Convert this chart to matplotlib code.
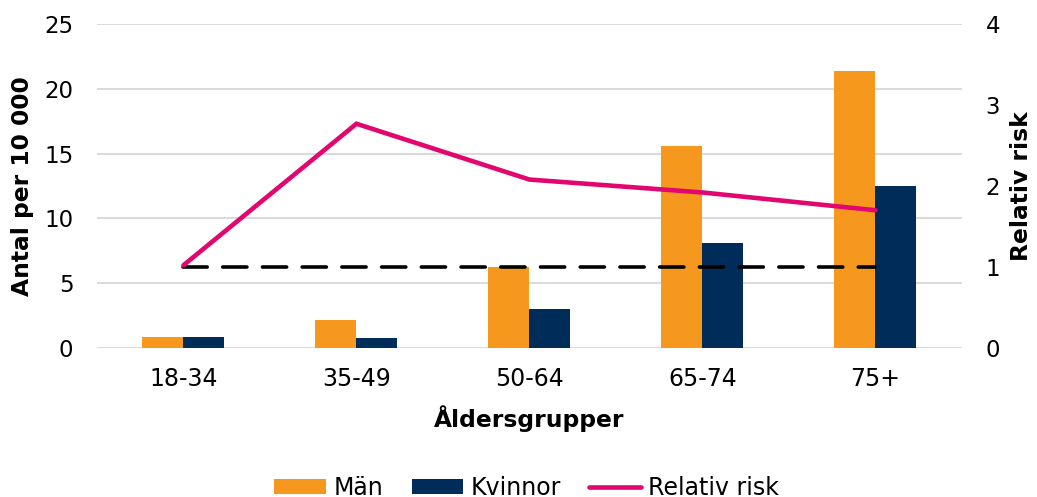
import matplotlib
matplotlib.use("Agg")
import matplotlib.pyplot as plt
import numpy as np

# data
groups = ["18-34", "35-49", "50-64", "65-74", "75+"]
man = [0.83, 2.14, 6.24, 15.56, 21.38]
kvinnor = [0.80, 0.77, 2.99, 8.13, 12.5]
relativ_risk = [1.02, 2.77, 2.08, 1.92, 1.70]
referens = [1, 1, 1, 1, 1]

orange = "#F7981E"
navy = "#002C59"
pink = "#E2066F"

plt.rcParams['font.family'] = ['DejaVu Sans']

fig = plt.figure(figsize=(10.37, 4.97), dpi=100)
ax = fig.add_axes([0.0935, 0.3004, 0.8341, 0.6507])
ax2 = ax.twinx()

x = np.arange(len(groups))
w = 0.237
b1 = ax.bar(x - w/2, man, w, color=orange, label="Män", zorder=2)
b2 = ax.bar(x + w/2, kvinnor, w, color=navy, label="Kvinnor", zorder=2)

ax.set_xlim(-0.5, len(groups) - 0.5)
ax.set_ylim(0, 25)
ax.set_yticks([0, 5, 10, 15, 20, 25])
ax.set_axisbelow(True)
ax.yaxis.grid(True, color="#D9D9D9", linewidth=1.4)
ax.set_xticks(x)
ax.set_xticklabels(groups)
ax.tick_params(axis="x", length=0, pad=14, labelsize=17)
ax.tick_params(axis="y", length=0, pad=17, labelsize=16.5)

ax2.set_ylim(0, 4)
ax2.set_yticks([0, 1, 2, 3, 4])
ax2.tick_params(axis="y", length=0, pad=17, labelsize=16.5)

# reference level and relative risk line
ax2.plot(x, referens, color="black", linewidth=2.6, dashes=(6.7, 4.3),
         dash_capstyle="round")
ln, = ax2.plot(x, relativ_risk, color=pink, linewidth=3.3,
               solid_capstyle="round", solid_joinstyle="miter", label="Relativ risk")

for a in (ax, ax2):
    for s in a.spines.values():
        s.set_visible(False)

ax.set_xlabel("Åldersgrupper", fontsize=16.8, fontweight="bold", labelpad=10)
ax.set_ylabel("Antal per 10 000", fontsize=16.8, fontweight="bold",
              ha="center", va="center")
ax.yaxis.set_label_coords(-0.0861, 0.5)
ax2.set_ylabel("Relativ risk", fontsize=16.8, fontweight="bold", rotation=90,
               ha="center", va="center")
ax2.yaxis.set_label_coords(1.069, 0.5)

fig.legend(handles=[b1, b2, ln], loc="upper center", bbox_to_anchor=(0.508, 0.062),
           ncol=3, frameon=False, fontsize=17, handlelength=2.2, handleheight=0.6,
           handletextpad=0.3, columnspacing=1.2, borderaxespad=0)

fig.savefig("out.png", dpi=100)
